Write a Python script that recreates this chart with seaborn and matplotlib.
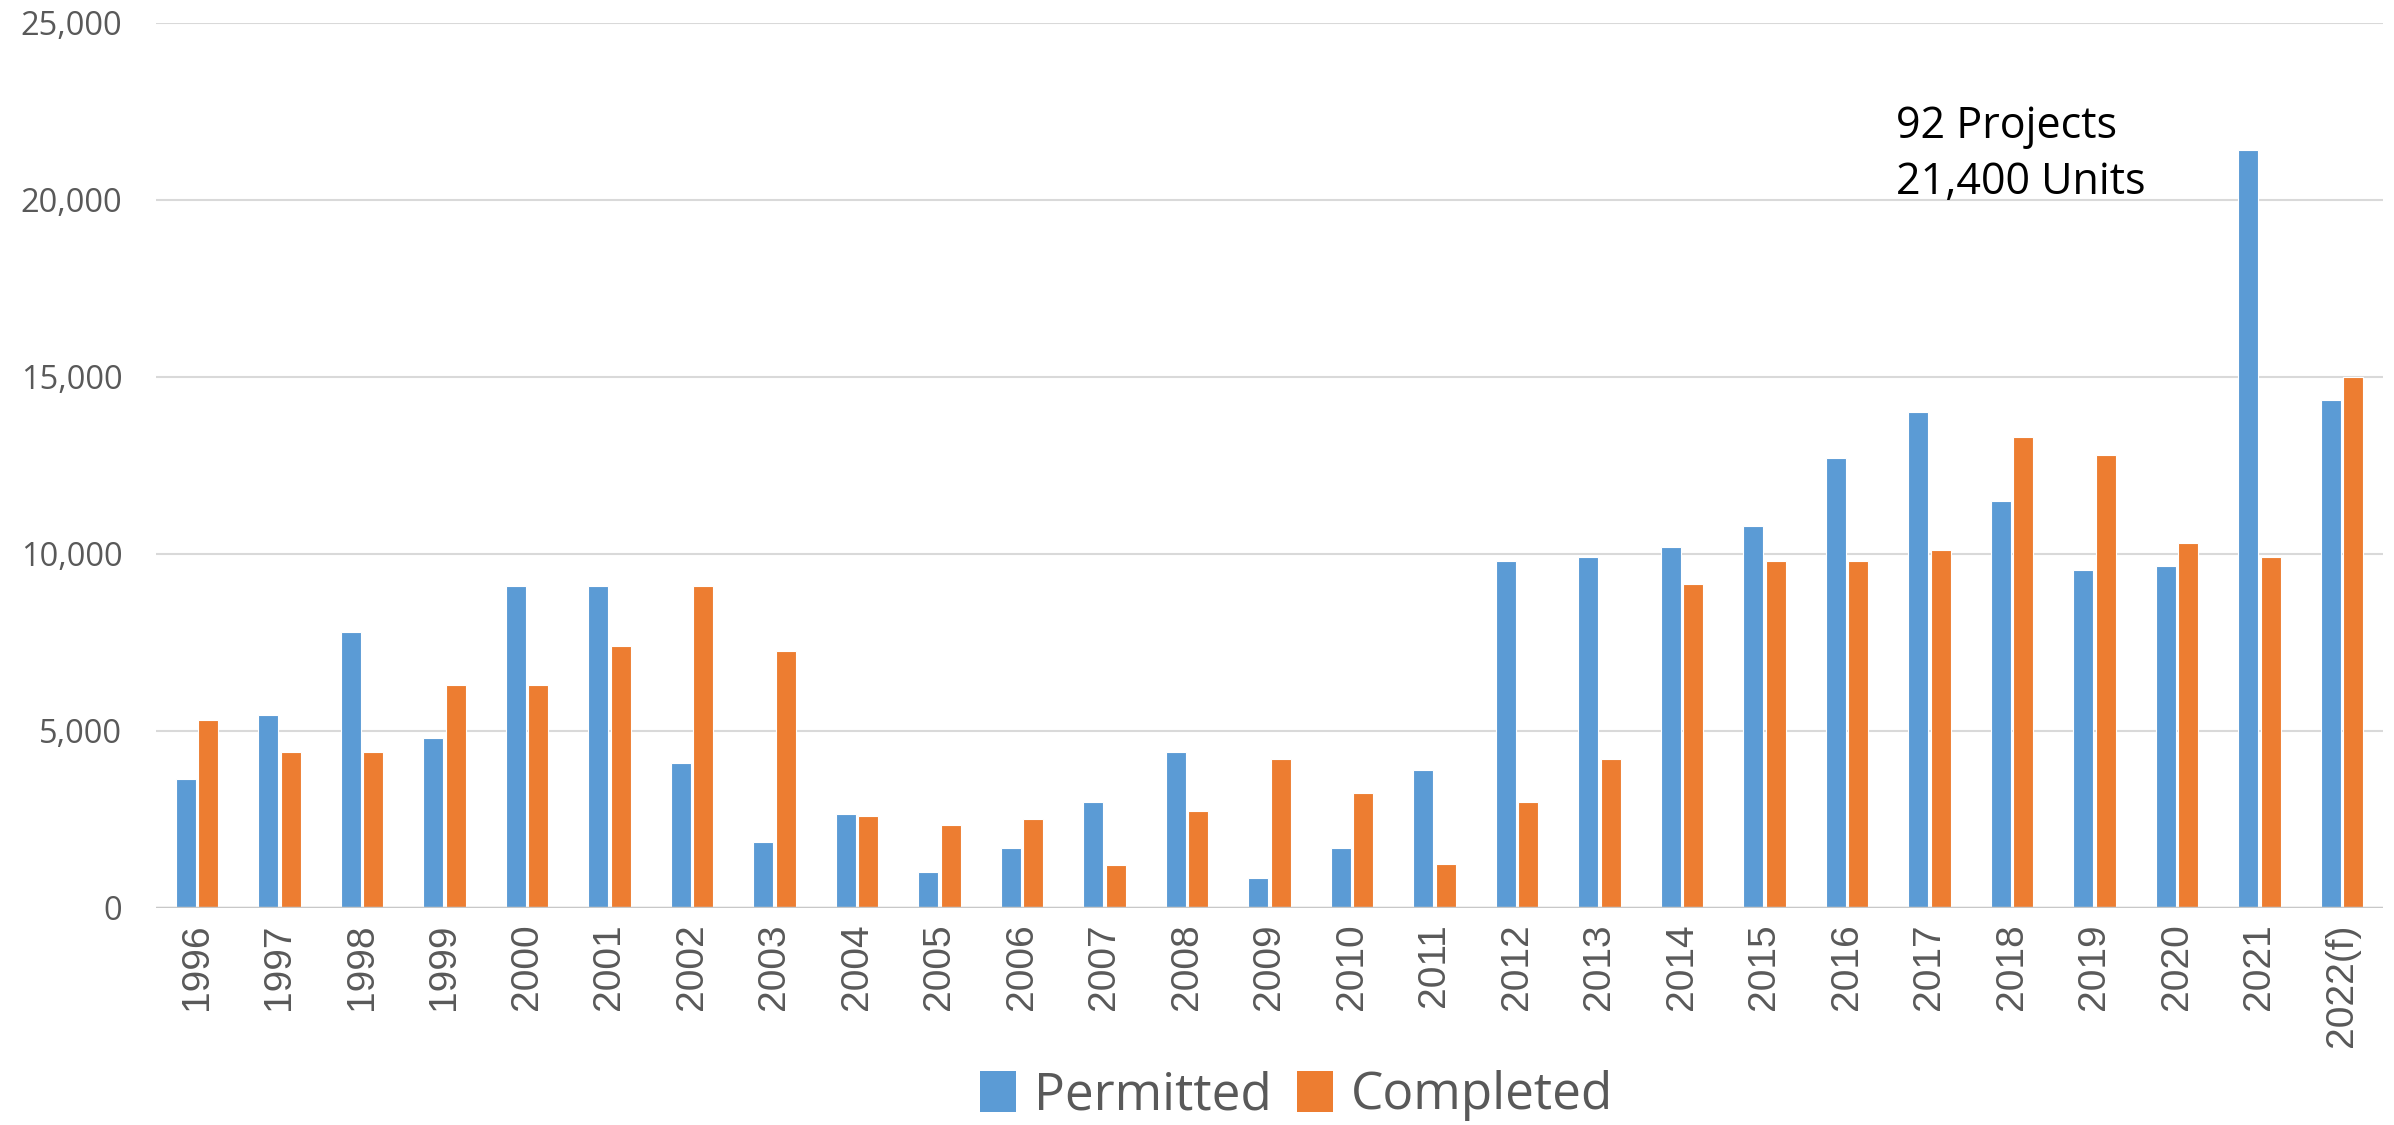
import matplotlib
matplotlib.use("Agg")
import matplotlib.pyplot as plt
from matplotlib.patches import Patch
from matplotlib.ticker import FuncFormatter, MultipleLocator
import pandas as pd
import seaborn as sns

# Multifamily units by year
years = ["1996", "1997", "1998", "1999", "2000", "2001", "2002", "2003", "2004",
         "2005", "2006", "2007", "2008", "2009", "2010", "2011", "2012", "2013",
         "2014", "2015", "2016", "2017", "2018", "2019", "2020", "2021", "2022(f)"]
permitted = [3650, 5450, 7800, 4800, 9100, 9100, 4100, 1850, 2650, 1000, 1700, 3000,
             4400, 850, 1700, 3900, 9800, 9900, 10200, 10800, 12700, 14000, 11500,
             9550, 9650, 21400, 14350]
completed = [5300, 4400, 4400, 6300, 6300, 7400, 9100, 7250, 2600, 2350, 2500, 1200,
             2750, 4200, 3250, 1250, 3000, 4200, 9150, 9800, 9800, 10100, 13300,
             12800, 10300, 9900, 15000]
series_names = ["Permitted", "Completed"]
series_colors = ["#5B9BD5", "#ED7D31"]
note_lines = ["92 Projects", "21,400 Units"]
note_year = "2017"

df = pd.DataFrame({
    "Year": years * 2,
    "Units": permitted + completed,
    "Status": [series_names[0]] * len(years) + [series_names[1]] * len(years),
})

sns.set_theme(style="white")
plt.rcParams["font.family"] = ["Open Sans", "DejaVu Sans"]

fig = plt.figure(figsize=(23.94, 11.25), dpi=100)
ax = fig.add_axes([0.065, 0.193, 0.9305, 0.7866])

sns.barplot(data=df, x="Year", y="Units", hue="Status", order=years,
            hue_order=series_names, palette=series_colors, width=0.55, gap=0.12,
            edgecolor="white", linewidth=0.8, saturation=1, legend=False, ax=ax)

ax.set_ylim(0, 25000)
ax.set_xlim(-0.5, len(years) - 0.5)
ax.yaxis.set_major_locator(MultipleLocator(5000))
ax.yaxis.set_major_formatter(FuncFormatter(lambda v, p: f"{int(v):,}"))
ax.grid(axis="y", color="#D9D9D9", linewidth=1.5)
ax.set_axisbelow(True)
ax.axhline(0, color="#C8C8C8", linewidth=2.5, zorder=1)
for s in ax.spines.values():
    s.set_visible(False)
ax.set_xlabel("")
ax.set_ylabel("")
ax.tick_params(axis="y", length=0, pad=24, labelsize=23.5, labelcolor="#595959")
ax.tick_params(axis="x", length=0, pad=11, labelsize=28, labelcolor="#595959")
for lbl in ax.get_xticklabels():
    lbl.set_rotation(90)
    lbl.set_fontfamily(["Liberation Sans", "DejaVu Sans"])
    lbl.set_va("top")

# Callout above the 2021 spike
ax.text(years.index(note_year) - 0.4, 22700, "\n".join(note_lines), fontsize=31,
        color="black", ha="left", va="top", linespacing=1.35)

handles = [Patch(facecolor=c, edgecolor="none") for c in series_colors]
fig.legend(handles, series_names, loc="center", bbox_to_anchor=(0.5415, 0.026),
           ncol=2, frameon=False, fontsize=37, labelcolor="#595959",
           handlelength=0.7, handleheight=0.85, handletextpad=0.35,
           columnspacing=0.5)

fig.savefig("out.png", dpi=100)
